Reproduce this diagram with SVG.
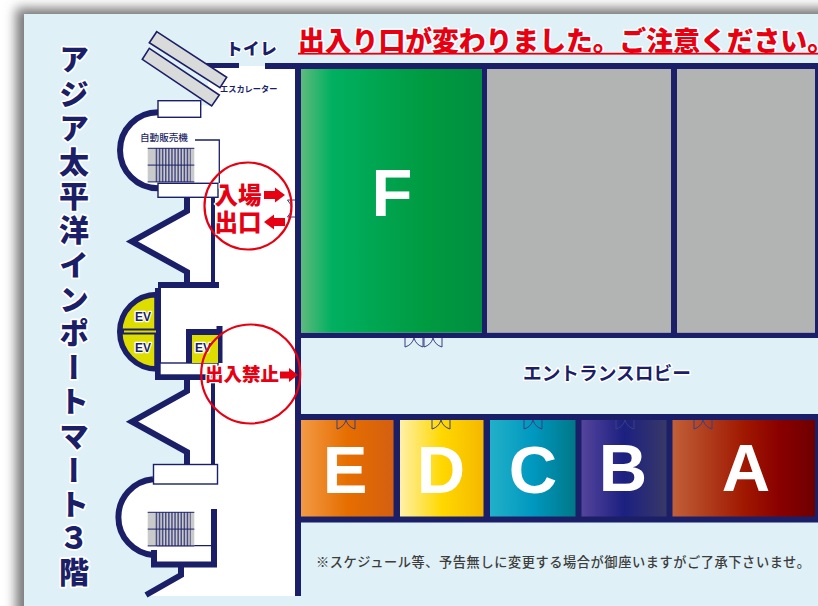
<svg xmlns="http://www.w3.org/2000/svg" xmlns:xlink="http://www.w3.org/1999/xlink" width="818" height="606" viewBox="0 0 818 606">
<style>
text{font-family:"Noto Sans CJK JP","Liberation Sans",sans-serif}
.navy{fill:#1b1f67}
.wall{fill:none;stroke:#1b1f67;stroke-width:6;stroke-miterlimit:10}
.thin{fill:#fff;stroke:#1b1f67;stroke-width:1.4}
.line{fill:none;stroke:#1b1f67;stroke-width:1.3}
.halo{paint-order:stroke;stroke:#fff;stroke-linejoin:round}
.red{fill:#e60012;font-weight:900}
.letter{font-family:"Liberation Sans",sans-serif;font-weight:700;font-size:67px;fill:#fff;text-anchor:middle}
.door{fill:none;stroke:#3a3f80;stroke-width:1}
.esc{fill:#d9dada;stroke:#1b1f67;stroke-width:1.6}
.ev{font-family:"Liberation Sans",sans-serif;font-weight:700;font-size:12px;fill:#1b1f67;text-anchor:middle;paint-order:stroke;stroke:#fff;stroke-width:2.5;stroke-linejoin:round}
</style>
<defs>
<filter id="blur" x="-10%" y="-10%" width="120%" height="120%"><feGaussianBlur stdDeviation="6"/></filter>
<linearGradient id="gF"><stop offset="0" stop-color="#5fba7d"/><stop offset=".17" stop-color="#00b060"/><stop offset=".7" stop-color="#009a40"/><stop offset="1" stop-color="#008f40"/></linearGradient>
<linearGradient id="gE"><stop offset="0" stop-color="#f29a45"/><stop offset=".5" stop-color="#e66e00"/><stop offset="1" stop-color="#d45f10"/></linearGradient>
<linearGradient id="gD"><stop offset="0" stop-color="#fff0a8"/><stop offset=".5" stop-color="#ffd800"/><stop offset="1" stop-color="#f5b800"/></linearGradient>
<linearGradient id="gC"><stop offset="0" stop-color="#22b0c8"/><stop offset=".5" stop-color="#0098c0"/><stop offset="1" stop-color="#007888"/></linearGradient>
<linearGradient id="gB"><stop offset="0" stop-color="#55449c"/><stop offset=".5" stop-color="#1c2080"/><stop offset="1" stop-color="#383868"/></linearGradient>
<linearGradient id="gA"><stop offset="0" stop-color="#c06038"/><stop offset=".5" stop-color="#a01800"/><stop offset=".75" stop-color="#8a0000"/><stop offset="1" stop-color="#6e0000"/></linearGradient>
<g id="stairs">
<rect width="46.6" height="33.6" fill="#c9caca"/>
<line x1="8" y1="16.8" x2="43" y2="16.8" stroke="#4a4e85" stroke-width="33.6" stroke-dasharray="1.5 1.6"/>
<path d="M0 0H46.6M0 16.8H46.6M0 33.6H46.6" stroke="#1b1f67" stroke-width="1" fill="none"/>
</g>
<path id="door" class="door" d="M0 0V9Q7 7 9 0Q11 7 18 9V0"/>
</defs>

<rect width="818" height="606" fill="#fff"/>
<rect x="16" y="8" width="830" height="640" fill="#777" filter="url(#blur)"/>
<rect x="24" y="14" width="794" height="592" fill="#dff0f6"/>

<g id="floor">
<path d="M205 66H298V596H146L181 574V565H153V555A38 38 0 0 1 153 479V470H187V452L132 421.700L187 391V375H158V288H187V272L132 241.500L187 211V190H158V188.300A38 38 0 0 1 158 112.300V105H200L212 106Z" fill="#fff"/>
</g>

<g id="walls">
<path class="navy" d="M205 63H239V68H205ZM265 63H818V69H265Z"/>
<rect class="navy" x="295" y="63" width="6" height="533"/>
<rect class="navy" x="482" y="63" width="5" height="275"/>
<rect class="navy" x="671" y="63" width="6" height="275"/>
<rect class="navy" x="815" y="63" width="3" height="275"/>
<rect class="navy" x="295" y="332.500" width="523" height="5.500"/>
<rect class="navy" x="295" y="414" width="523" height="108.500"/>
<path class="wall" d="M187 197V211L132 241.500L187 272V285"/>
<path class="wall" d="M158 285H219"/>
<path class="wall" style="stroke-width:4" d="M213 197V283"/>
<path class="wall" d="M158 288V377H215"/>
<path class="wall" d="M189 363V332H221M219.500 326V363"/>
<path class="wall" d="M187 377V391L132 421.700L187 452V464"/>
<path class="wall" style="stroke-width:4" d="M213 377V464"/>
<path class="wall" d="M158 112.300A38 38 0 0 0 158 188.300"/>
<path class="wall" d="M153 479.300A38 38 0 0 0 153 555"/>
<path class="wall" d="M154 550V564.500H214V509"/>
<path class="wall" d="M181 567V575L146 595"/>
</g>

<g id="rooms">
<rect id="room-F" x="301" y="69" width="181" height="263.500" fill="url(#gF)"/>
<rect id="room-gray-1" x="487" y="69" width="184" height="263.500" fill="#b2b3b3"/>
<rect id="room-gray-2" x="677" y="69" width="138" height="263.500" fill="#b2b3b3"/>
<rect id="room-E" x="301" y="420" width="92.500" height="96.500" fill="url(#gE)"/>
<rect id="room-D" x="400" y="420" width="83.500" height="96.500" fill="url(#gD)"/>
<rect id="room-C" x="490" y="420" width="85.500" height="96.500" fill="url(#gC)"/>
<rect id="room-B" x="581.500" y="420" width="85" height="96.500" fill="url(#gB)"/>
<rect id="room-A" x="672.500" y="420" width="142.500" height="96.500" fill="url(#gA)"/>
<text class="letter" x="392" y="216">F</text>
<text class="letter" x="345" y="493">E</text>
<text class="letter" x="441" y="493">D</text>
<text class="letter" x="533" y="493">C</text>
<text class="letter" x="623" y="491">B</text>
<text class="letter" x="746" y="491">A</text>
</g>

<g id="doors">
<use xlink:href="#door" href="#door" x="405" y="338"/>
<use xlink:href="#door" href="#door" x="424" y="338"/>
<use xlink:href="#door" href="#door" x="337" y="420"/>
<use xlink:href="#door" href="#door" x="432" y="420"/>
<use xlink:href="#door" href="#door" x="524" y="420"/>
<use xlink:href="#door" href="#door" x="616" y="420"/>
<use xlink:href="#door" href="#door" x="694" y="420"/>
<path class="door" d="M295 200H287.500Q292 205 291.500 208.500Q292 212 287.500 217H295"/>
</g>

<g id="escalators">
<path class="esc" d="M156.700 31.700L226.700 77.300L220 87.700L149.300 42.700Z"/>
<path class="esc" d="M149.300 48.300L219.300 95L211.700 106L142.300 59.300Z"/>
</g>

<g id="boxes">
<rect class="thin" x="158" y="100.700" width="42.700" height="16.600"/>
<rect class="thin" x="158" y="183.300" width="60" height="14"/>
<rect class="thin" x="160" y="363" width="58" height="12"/>
<rect class="thin" x="153.500" y="464.500" width="64" height="19.500"/>
<path class="line" d="M195 140H219.300V183"/>
<path class="line" d="M157 545.700H211"/>
<use xlink:href="#stairs" href="#stairs" x="147.700" y="148.300"/>
<use xlink:href="#stairs" href="#stairs" x="147.700" y="512.300"/>
</g>

<g id="elevators">
<path d="M157 294.500A37.200 37.200 0 0 0 157 369Z" fill="#dddd00" stroke="#1b1f67" stroke-width="5.500"/>
<rect class="navy" x="122" y="328.500" width="36" height="6"/>
<rect x="124" y="330.500" width="32" height="2" fill="#dddd00"/>
<rect x="192" y="335" width="26" height="28" fill="#dddd00"/>
<text class="ev" x="143" y="321">EV</text>
<text class="ev" x="143" y="352">EV</text>
<text class="ev" x="203" y="352">EV</text>
</g>

<g id="labels">
<text class="halo navy" x="74" y="44" style="writing-mode:vertical-rl;font-size:30px;font-weight:900;letter-spacing:4.200px;stroke-width:3.500px">アジア太平洋インポートマート３階</text>
<text class="halo red" x="298" y="51" font-size="26.800" style="stroke-width:3px">出入り口が変わりました。ご注意ください。</text>
<rect x="298" y="52.800" width="520" height="1.800" fill="#e60012"/>
<text class="halo navy" x="226" y="55" font-size="16.500" font-weight="900" style="stroke-width:2.500px;letter-spacing:.6px">トイレ</text>
<text class="navy" x="220" y="92" font-size="8.200" font-weight="700">エスカレーター</text>
<text class="navy" x="140" y="140.500" font-size="9.600" font-weight="500">自動販売機</text>
<text class="halo navy" x="523" y="380" font-size="18.700" font-weight="700" style="stroke-width:3px">エントランスロビー</text>
<text x="316" y="567" font-size="13.200" font-weight="500" fill="#3d3d3d" textLength="494">※スケジュール等、予告無しに変更する場合が御座いますがご了承下さいませ。</text>
</g>

<g id="entrance-mark">
<circle cx="248" cy="206" r="43.500" fill="none" stroke="#e60012" stroke-width="2.200"/>
<text class="halo red" x="214.500" y="204" font-size="23.500" style="stroke-width:2.500px">入場</text>
<text class="halo red" x="214.500" y="231" font-size="23.500" style="stroke-width:2.500px">出口</text>
<path d="M264 191H275V187.500L285 195L275 202.500V199H264Z" fill="#e60012"/>
<path d="M285 218H274V214.500L264 222L274 229.500V226H285Z" fill="#e60012"/>
</g>
<g id="no-entry-mark">
<circle cx="250.700" cy="374" r="49.500" fill="none" stroke="#e60012" stroke-width="2.200"/>
<text class="halo red" x="205" y="381" font-size="18.500" style="stroke-width:2.500px">出入禁止</text>
<path d="M280 371.500H289V368L298 375L289 382V378.500H280Z" fill="#e60012"/>
</g>
</svg>
